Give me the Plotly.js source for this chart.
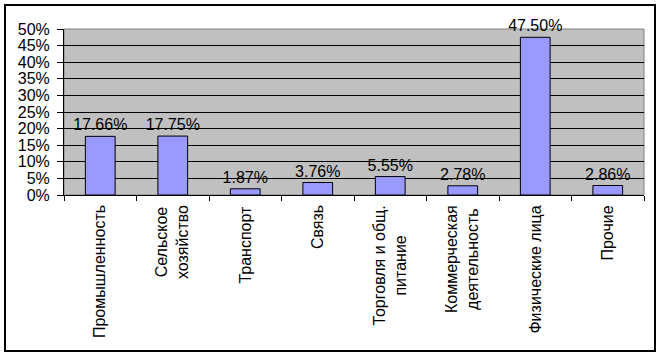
<!DOCTYPE html>
<html><head><meta charset="utf-8">
<script src="https://cdn.plot.ly/plotly-3.0.1.min.js"></script>
<style>
html,body{margin:0;padding:0;background:#fff;}
#wrap{position:relative;width:660px;height:355px;}
#chart{position:absolute;left:0;top:0;width:660px;height:355px;}
#frame{position:absolute;left:4px;top:4px;width:648px;height:344px;border:2px solid #000;pointer-events:none;}
</style></head>
<body>
<div id="wrap"><div id="chart"></div><div id="frame"></div></div>
<script>
const categories = ["Промышленность","Сельское хозяйство","Транспорт","Связь","Торговля и общ. питание","Коммерческая деятельность","Физические лица","Прочие"];
const labelLines = ["Промышленность","Сельское<br>хозяйство","Транспорт","Связь","Торговля и общ.<br>питание","Коммерческая<br>деятельность","Физические лица","Прочие"];
const values = [17.66, 17.75, 1.87, 3.76, 5.55, 2.78, 47.50, 2.86];
const yTickVals = [0,5,10,15,20,25,30,35,40,45,50];
const yTickText = ["0%","5%","10%","15%","20%","25%","30%","35%","40%","45%","50%"];

const font = {family: "Arial, 'Liberation Sans', sans-serif", size: 16, color: "#000"};

const trace = {
  type: "bar",
  x: categories,
  y: values,
  text: values.map(v => v.toFixed(2) + "%"),
  textposition: "outside",
  textfont: font,
  outsidetextfont: font,
  constraintext: "none",
  cliponaxis: false,
  marker: {color: "#9999FF", line: {color: "#000", width: 1}},
  hoverinfo: "none"
};

const annotations = categories.map((c, i) => ({
  x: c, xref: "x", y: -0.05, yref: "paper",
  text: labelLines[i], showarrow: false, textangle: -90,
  xanchor: "center", yanchor: "top", align: "center",
  font: font
}));

const layout = {
  width: 660, height: 355,
  margin: {l: 64, r: 16, t: 29, b: 160},
  paper_bgcolor: "#fff",
  plot_bgcolor: "#C0C0C0",
  bargap: 0.59,
  showlegend: false,
  font: font,
  xaxis: {
    type: "category",
    showticklabels: false,
    ticks: "outside", tickson: "boundaries", ticklen: 5, tickcolor: "#000", tickwidth: 1,
    showline: true, linecolor: "#000", linewidth: 1,
    showgrid: false, zeroline: false, fixedrange: true
  },
  yaxis: {
    range: [0, 50],
    tickvals: yTickVals, ticktext: yTickText,
    ticks: "outside", ticklen: 6, tickcolor: "#000", tickwidth: 1,
    ticklabelstandoff: 4,
    showline: true, linecolor: "#000", linewidth: 1,
    showgrid: true, gridcolor: "#000", gridwidth: 1,
    zeroline: false, fixedrange: true, tickfont: font
  },
  shapes: [{
    type: "rect", xref: "paper", yref: "paper", x0: 0, x1: 1, y0: 0, y1: 1,
    line: {color: "#808080", width: 1}, fillcolor: "rgba(0,0,0,0)", layer: "below"
  }],
  annotations: annotations
};

Plotly.newPlot("chart", [trace], layout, {displayModeBar: false, staticPlot: true});
</script>
</body></html>
